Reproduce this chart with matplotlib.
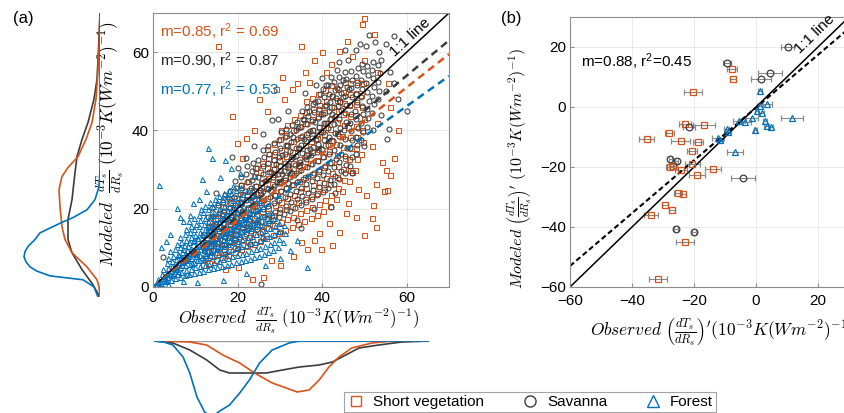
import matplotlib
matplotlib.use("Agg")
from matplotlib import pyplot as plt
from matplotlib.lines import Line2D
import numpy as np

plt.rcParams["font.family"] = ["Liberation Sans", "DejaVu Sans"]
plt.rcParams["mathtext.fontset"] = "cm"

RED = "#D95319"
BLUE = "#0072BD"
GRAY = "#3c3c3c"
SPINE = "#8c8c8c"

# ---- panel (a) scatter: (observed, modeled) ----
short_veg = [
    (11.8, 5.5), (12.2, 7.5), (12.0, 9.5), (12.3, 11.5), (11.9, 13.5),
    (13.3, 6.2), (13.7, 8.3), (13.4, 10.4), (13.8, 12.5), (13.5, 14.6), (13.2, 16.5),
    (14.8, 6.9), (15.2, 9.0), (14.9, 11.2), (15.3, 13.3), (15.0, 15.5), (14.7, 17.6),
    (16.3, 7.6), (16.7, 9.8), (16.4, 12.0), (16.8, 14.2), (16.5, 16.4), (16.2, 18.6), (16.6, 20.5),
    (17.8, 8.3), (18.2, 10.5), (17.9, 12.8), (18.3, 15.0), (18.0, 17.3), (17.7, 19.5), (18.1, 21.6),
    (19.3, 9.0), (19.7, 11.3), (19.4, 13.6), (19.8, 15.9), (19.5, 18.2), (19.2, 20.5), (19.6, 22.8),
    (20.8, 9.7), (21.2, 12.0), (20.9, 14.4), (21.3, 16.7), (21.0, 19.1), (20.7, 21.4), (21.1, 23.8), (20.9, 26.0),
    (22.3, 10.4), (22.7, 12.8), (22.4, 15.2), (22.8, 17.6), (22.5, 20.0), (22.2, 22.4), (22.6, 24.8), (22.4, 27.2),
    (23.8, 11.1), (24.2, 13.6), (23.9, 16.0), (24.3, 18.5), (24.0, 20.9), (23.7, 23.4), (24.1, 25.8), (23.9, 28.3), (24.2, 30.5),
    (25.3, 11.8), (25.7, 14.3), (25.4, 16.8), (25.8, 19.3), (25.5, 21.8), (25.2, 24.3), (25.6, 26.8), (25.4, 29.3), (25.7, 31.8),
    (26.8, 12.5), (27.2, 15.0), (26.9, 17.6), (27.3, 20.1), (27.0, 22.7), (26.7, 25.2), (27.1, 27.8), (26.9, 30.3), (27.2, 32.9), (27.0, 35.2),
    (28.3, 13.2), (28.7, 15.8), (28.4, 18.4), (28.8, 21.0), (28.5, 23.6), (28.2, 26.2), (28.6, 28.8), (28.4, 31.4), (28.7, 34.0), (28.5, 36.6),
    (29.8, 13.9), (30.2, 16.5), (29.9, 19.2), (30.3, 21.8), (30.0, 24.5), (29.7, 27.1), (30.1, 29.8), (29.9, 32.4), (30.2, 35.1), (30.0, 37.7), (30.3, 40.2),
    (31.3, 14.6), (31.7, 17.3), (31.4, 20.0), (31.8, 22.7), (31.5, 25.4), (31.2, 28.1), (31.6, 30.8), (31.4, 33.5), (31.7, 36.2), (31.5, 38.9), (31.8, 41.5),
    (32.8, 15.3), (33.2, 18.0), (32.9, 20.8), (33.3, 23.5), (33.0, 26.3), (32.7, 29.0), (33.1, 31.8), (32.9, 34.5), (33.2, 37.3), (33.0, 40.0), (33.3, 42.8),
    (34.3, 16.0), (34.7, 18.8), (34.4, 21.6), (34.8, 24.4), (34.5, 27.2), (34.2, 30.0), (34.6, 32.8), (34.4, 35.6), (34.7, 38.4), (34.5, 41.2), (34.8, 44.0),
    (35.8, 16.8), (36.2, 19.6), (35.9, 22.4), (36.3, 25.2), (36.0, 28.0), (35.7, 30.8), (36.1, 33.6), (35.9, 36.4), (36.2, 39.2), (36.0, 42.0), (36.3, 44.8), (36.1, 47.5),
    (37.3, 17.6), (37.7, 20.4), (37.4, 23.2), (37.8, 26.0), (37.5, 28.8), (37.2, 31.6), (37.6, 34.4), (37.4, 37.2), (37.7, 40.0), (37.5, 42.8), (37.8, 45.6), (37.6, 48.4),
    (38.8, 18.4), (39.2, 21.2), (38.9, 24.0), (39.3, 26.8), (39.0, 29.6), (38.7, 32.4), (39.1, 35.2), (38.9, 38.0), (39.2, 40.8), (39.0, 43.6), (39.3, 46.4), (39.1, 49.2),
    (40.3, 19.5), (40.7, 22.3), (40.4, 25.1), (40.8, 27.9), (40.5, 30.7), (40.2, 33.5), (40.6, 36.3), (40.4, 39.1), (40.7, 41.9), (40.5, 44.7), (40.8, 47.5), (40.6, 50.3),
    (41.8, 20.8), (42.2, 23.6), (41.9, 26.4), (42.3, 29.2), (42.0, 32.0), (41.7, 34.8), (42.1, 37.6), (41.9, 40.4), (42.2, 43.2), (42.0, 46.0), (42.3, 48.8), (42.1, 51.5),
    (43.3, 22.5), (43.7, 25.3), (43.4, 28.1), (43.8, 30.9), (43.5, 33.7), (43.2, 36.5), (43.6, 39.3), (43.4, 42.1), (43.7, 44.9), (43.5, 47.7), (43.8, 50.5),
    (44.8, 24.5), (45.2, 27.3), (44.9, 30.1), (45.3, 32.9), (45.0, 35.7), (44.7, 38.5), (45.1, 41.3), (44.9, 44.1), (45.2, 46.9), (45.0, 49.7), (45.3, 52.5),
    (46.3, 27.0), (46.7, 29.8), (46.4, 32.6), (46.8, 35.4), (46.5, 38.2), (46.2, 41.0), (46.6, 43.8), (46.4, 46.6), (46.7, 49.4), (46.5, 52.2),
    (47.8, 30.0), (48.2, 32.8), (47.9, 35.6), (48.3, 38.4), (48.0, 41.2), (47.7, 44.0), (48.1, 46.8), (47.9, 49.6), (48.2, 52.4),
    (49.3, 34.0), (49.7, 37.0), (49.4, 40.0), (49.8, 43.0), (49.5, 46.0), (49.2, 49.0), (49.6, 52.0),
    # scattered
    (49.9, 13.3), (52.7, 15.4), (51.8, 17.7), (36.5, 9.7), (39.8, 9.7), (42.4, 10.8), (23.3, 2.0),
    (48.0, 18.0), (45.6, 19.0), (55.3, 24.9), (52.7, 26.2), (50.4, 23.6), (41.6, 16.4), (39.3, 13.8),
    (49.9, 68.7), (49.4, 67.2), (35.0, 61.5), (15.3, 61.5), (30.4, 53.6), (18.6, 43.8), (19.8, 36.9),
    (32.9, 50.5), (45.9, 62.8), (52.2, 64.6), (44.0, 60.3), (40.0, 60.0), (54.1, 32.0), (51.8, 35.9),
    (47.0, 29.5), (54.6, 24.4), (26.0, 2.5), (30.0, 5.5), (33.0, 8.0), (28.0, 7.0), (44.0, 14.0),
    (46.0, 21.5), (38.0, 12.0), (35.0, 11.5), (55.0, 30.0), (57.0, 33.0), (53.0, 42.0), (56.0, 46.0),
    (27.0, 45.0), (24.0, 40.0), (22.0, 38.0), (31.0, 48.0), (36.0, 55.0), (38.0, 58.0), (42.0, 57.0),
    (47.0, 59.0), (21.0, 33.0), (34.0, 52.0), (50.0, 58.0), (53.0, 55.0), (25.0, 48.0), (29.0, 50.5),
    (37.0, 52.5), (41.0, 55.0), (20.0, 5.0), (17.0, 4.5), (44.0, 47.5), (55.5, 52.0), (58.0, 40.0),
    (56.0, 28.5), (52.0, 21.0), (48.5, 25.0),
]

savanna = [
    (12.8, 9.0), (13.2, 11.2), (13.0, 13.4), (13.3, 15.6), (12.9, 17.8),
    (14.1, 9.5), (14.5, 11.6), (14.2, 13.8), (14.6, 16.0), (14.3, 18.2), (14.0, 20.3),
    (15.4, 10.1), (15.8, 12.2), (15.5, 14.4), (15.9, 16.6), (15.6, 18.8), (15.3, 21.0),
    (16.7, 10.8), (17.1, 12.9), (16.8, 15.1), (17.2, 17.3), (16.9, 19.5), (16.6, 21.7), (17.0, 23.5),
    (18.0, 11.4), (18.4, 13.6), (18.1, 15.8), (18.5, 18.0), (18.2, 20.2), (17.9, 22.4), (18.3, 24.4),
    (19.3, 12.1), (19.7, 14.3), (19.4, 16.5), (19.8, 18.7), (19.5, 20.9), (19.2, 23.1), (19.6, 25.2), (19.4, 27.0),
    (20.6, 12.8), (21.0, 15.0), (20.7, 17.2), (21.1, 19.4), (20.8, 21.6), (20.5, 23.8), (20.9, 26.0), (20.7, 28.1),
    (21.9, 13.5), (22.3, 15.7), (22.0, 17.9), (22.4, 20.1), (22.1, 22.3), (21.8, 24.5), (22.2, 26.7), (22.0, 28.9), (22.3, 31.0),
    (23.2, 14.2), (23.6, 16.4), (23.3, 18.6), (23.7, 20.8), (23.4, 23.0), (23.1, 25.2), (23.5, 27.4), (23.3, 29.6), (23.6, 31.8),
    (24.5, 14.9), (24.9, 17.1), (24.6, 19.3), (25.0, 21.5), (24.7, 23.7), (24.4, 25.9), (24.8, 28.1), (24.6, 30.3), (24.9, 32.5),
    (25.8, 15.6), (26.2, 17.8), (25.9, 20.0), (26.3, 22.2), (26.0, 24.4), (25.7, 26.6), (26.1, 28.8), (25.9, 31.0), (26.2, 33.2), (26.0, 35.0),
    (27.1, 16.3), (27.5, 18.5), (27.2, 20.7), (27.6, 22.9), (27.3, 25.1), (27.0, 27.3), (27.4, 29.5), (27.2, 31.7), (27.5, 33.9), (27.3, 36.0),
    (28.4, 17.0), (28.8, 19.2), (28.5, 21.4), (28.9, 23.6), (28.6, 25.8), (28.3, 28.0), (28.7, 30.2), (28.5, 32.4), (28.8, 34.6), (28.6, 36.8),
    (29.7, 17.8), (30.1, 20.0), (29.8, 22.2), (30.2, 24.4), (29.9, 26.6), (29.6, 28.8), (30.0, 31.0), (29.8, 33.2), (30.1, 35.4), (29.9, 37.6), (30.2, 39.5),
    (31.0, 18.6), (31.4, 20.8), (31.1, 23.0), (31.5, 25.2), (31.2, 27.4), (30.9, 29.6), (31.3, 31.8), (31.1, 34.0), (31.4, 36.2), (31.2, 38.4), (31.5, 40.4),
    (32.3, 19.4), (32.7, 21.6), (32.4, 23.8), (32.8, 26.0), (32.5, 28.2), (32.2, 30.4), (32.6, 32.6), (32.4, 34.8), (32.7, 37.0), (32.5, 39.2), (32.8, 41.3),
    (33.6, 20.2), (34.0, 22.4), (33.7, 24.6), (34.1, 26.8), (33.8, 29.0), (33.5, 31.2), (33.9, 33.4), (33.7, 35.6), (34.0, 37.8), (33.8, 40.0), (34.1, 42.2),
    (34.9, 21.0), (35.3, 23.2), (35.0, 25.4), (35.4, 27.6), (35.1, 29.8), (34.8, 32.0), (35.2, 34.2), (35.0, 36.4), (35.3, 38.6), (35.1, 40.8), (35.4, 43.0), (35.2, 45.0),
    (36.2, 21.8), (36.6, 24.0), (36.3, 26.2), (36.7, 28.4), (36.4, 30.6), (36.1, 32.8), (36.5, 35.0), (36.3, 37.2), (36.6, 39.4), (36.4, 41.6), (36.7, 43.8), (36.5, 46.0),
    (37.5, 22.6), (37.9, 24.8), (37.6, 27.0), (38.0, 29.2), (37.7, 31.4), (37.4, 33.6), (37.8, 35.8), (37.6, 38.0), (37.9, 40.2), (37.7, 42.4), (38.0, 44.6), (37.8, 46.8),
    (38.8, 23.4), (39.2, 25.6), (38.9, 27.8), (39.3, 30.0), (39.0, 32.2), (38.7, 34.4), (39.1, 36.6), (38.9, 38.8), (39.2, 41.0), (39.0, 43.2), (39.3, 45.4), (39.1, 47.6),
    (40.1, 24.3), (40.5, 26.5), (40.2, 28.7), (40.6, 30.9), (40.3, 33.1), (40.0, 35.3), (40.4, 37.5), (40.2, 39.7), (40.5, 41.9), (40.3, 44.1), (40.6, 46.3), (40.4, 48.5), (40.2, 50.5),
    (41.4, 25.2), (41.8, 27.4), (41.5, 29.6), (41.9, 31.8), (41.6, 34.0), (41.3, 36.2), (41.7, 38.4), (41.5, 40.6), (41.8, 42.8), (41.6, 45.0), (41.9, 47.2), (41.7, 49.4), (41.5, 51.5),
    (42.7, 26.2), (43.1, 28.4), (42.8, 30.6), (43.2, 32.8), (42.9, 35.0), (42.6, 37.2), (43.0, 39.4), (42.8, 41.6), (43.1, 43.8), (42.9, 46.0), (43.2, 48.2), (43.0, 50.4), (42.8, 52.4),
    (44.0, 27.5), (44.4, 29.7), (44.1, 31.9), (44.5, 34.1), (44.2, 36.3), (43.9, 38.5), (44.3, 40.7), (44.1, 42.9), (44.4, 45.1), (44.2, 47.3), (44.5, 49.5), (44.3, 51.7), (44.1, 53.6),
    (45.3, 29.0), (45.7, 31.2), (45.4, 33.4), (45.8, 35.6), (45.5, 37.8), (45.2, 40.0), (45.6, 42.2), (45.4, 44.4), (45.7, 46.6), (45.5, 48.8), (45.8, 51.0), (45.6, 53.2), (45.4, 55.0),
    (46.6, 31.0), (47.0, 33.2), (46.7, 35.4), (47.1, 37.6), (46.8, 39.8), (46.5, 42.0), (46.9, 44.2), (46.7, 46.4), (47.0, 48.6), (46.8, 50.8), (47.1, 53.0), (46.9, 55.2),
    (47.9, 34.0), (48.3, 36.2), (48.0, 38.4), (48.4, 40.6), (48.1, 42.8), (47.8, 45.0), (48.2, 47.2), (48.0, 49.4), (48.3, 51.6), (48.1, 53.8), (48.4, 56.0),
    (49.2, 37.5), (49.6, 39.7), (49.3, 41.9), (49.7, 44.1), (49.4, 46.3), (49.1, 48.5), (49.5, 50.7), (49.3, 52.9), (49.6, 55.1), (49.4, 57.0),
    (50.5, 41.0), (50.9, 43.2), (50.6, 45.4), (51.0, 47.6), (50.7, 49.8), (50.4, 52.0), (50.8, 54.2), (50.6, 56.4),
    (51.8, 44.5), (52.2, 46.7), (51.9, 48.9), (52.3, 51.1), (52.0, 53.3), (51.7, 55.5), (52.1, 57.5),
    (53.1, 48.0), (53.5, 50.2), (53.2, 52.4), (53.6, 54.6), (53.3, 56.8),
    # densest part, second pass
    (24.0, 22.5), (25.3, 24.8), (26.6, 27.0), (27.9, 29.3), (29.2, 31.5), (30.5, 33.8), (31.8, 36.0),
    (33.1, 38.3), (34.4, 40.5), (35.7, 42.7), (37.0, 45.0), (38.3, 47.2), (39.6, 49.4), (40.9, 51.6),
    (42.2, 53.6), (43.5, 55.5), (28.0, 24.5), (29.3, 26.7), (30.6, 28.9), (31.9, 31.1), (33.2, 33.3),
    (34.5, 35.5), (35.8, 37.7), (37.1, 39.9), (38.4, 42.1), (39.7, 44.3), (41.0, 46.5), (42.3, 48.7),
    (43.6, 50.9), (44.9, 53.0), (32.0, 26.5), (33.3, 28.7), (34.6, 30.9), (35.9, 33.1), (37.2, 35.3),
    (38.5, 37.5), (39.8, 39.7), (41.1, 41.9), (42.4, 44.1), (43.7, 46.3), (45.0, 48.5), (46.3, 50.7),
    # scattered
    (57.0, 64.0), (55.0, 62.0), (55.3, 37.7), (55.8, 40.3), (18.8, 33.3), (28.2, 42.6), (29.5, 43.0),
    (50.4, 61.5), (52.5, 62.5), (54.0, 58.0), (56.0, 55.0), (2.4, 7.7), (25.6, 0.8), (48.0, 60.5),
    (46.0, 58.0), (44.0, 57.5), (53.5, 60.0), (55.0, 50.0), (57.0, 52.0), (52.0, 40.0), (50.0, 36.0),
    (47.0, 29.0), (43.0, 24.0), (38.0, 20.0), (34.0, 17.0), (30.0, 14.0), (26.0, 12.5), (23.0, 11.0),
    (20.0, 9.8), (17.0, 8.5), (22.0, 33.0), (24.0, 36.0), (20.0, 30.5), (26.0, 39.0), (32.0, 45.0),
    (36.0, 49.5), (40.0, 53.5), (49.0, 62.0), (51.0, 64.5), (45.5, 60.5), (58.0, 48.0), (60.0, 45.0),
    (54.0, 44.0), (8.0, 3.0), (10.0, 8.8), (15.0, 24.0), (35.0, 15.0), (42.0, 20.5), (38.5, 51.5),
]

forest = [
    (0.8, 0.6), (1.1, 1.3), (1.4, 0.9), (1.2, 2.0), (1.7, 1.6),
    (2.0, 1.1), (2.3, 2.3), (2.1, 3.4), (2.5, 1.7), (2.4, 4.6), (2.6, 2.9),
    (3.1, 1.6), (3.4, 2.6), (3.2, 3.7), (3.5, 4.8), (3.3, 6.1), (3.6, 7.4), (3.0, 2.1),
    (4.2, 1.9), (4.5, 3.0), (4.3, 4.2), (4.6, 5.3), (4.4, 6.6), (4.7, 7.9), (4.1, 9.1), (4.8, 3.6),
    (5.3, 2.3), (5.6, 3.4), (5.4, 4.7), (5.7, 5.9), (5.5, 7.2), (5.8, 8.5), (5.2, 9.8), (5.6, 11.0), (5.9, 4.1),
    (6.4, 2.6), (6.7, 3.9), (6.5, 5.1), (6.8, 6.4), (6.6, 7.7), (6.9, 9.0), (6.3, 10.3), (6.7, 11.6), (6.5, 12.9), (6.9, 5.6),
    (7.5, 3.0), (7.8, 4.3), (7.6, 5.6), (7.9, 6.9), (7.7, 8.2), (8.0, 9.5), (7.4, 10.8), (7.8, 12.1), (7.6, 13.5), (7.9, 14.8), (8.0, 7.4),
    (8.6, 3.3), (8.9, 4.7), (8.7, 6.0), (9.0, 7.3), (8.8, 8.7), (9.1, 10.0), (8.5, 11.4), (8.9, 12.7), (8.7, 14.1), (9.0, 15.5), (8.6, 16.8),
    (9.7, 3.6), (10.0, 5.0), (9.8, 6.4), (10.1, 7.8), (9.9, 9.2), (10.2, 10.6), (9.6, 12.0), (10.0, 13.4), (9.8, 14.8), (10.1, 16.2), (9.7, 17.7), (10.2, 8.5),
    (10.8, 3.9), (11.1, 5.4), (10.9, 6.8), (11.2, 8.2), (11.0, 9.7), (11.3, 11.1), (10.7, 12.6), (11.1, 14.0), (10.9, 15.5), (11.2, 17.0), (10.8, 18.5), (11.3, 19.8),
    (11.9, 4.2), (12.2, 5.7), (12.0, 7.2), (12.3, 8.7), (12.1, 10.2), (12.4, 11.7), (11.8, 13.2), (12.2, 14.7), (12.0, 16.2), (12.3, 17.7), (11.9, 19.2), (12.4, 20.7), (12.1, 9.4),
    (13.0, 4.5), (13.3, 6.0), (13.1, 7.6), (13.4, 9.1), (13.2, 10.7), (13.5, 12.2), (12.9, 13.8), (13.3, 15.3), (13.1, 16.9), (13.4, 18.5), (13.0, 20.0), (13.5, 21.6),
    (14.1, 4.8), (14.4, 6.4), (14.2, 8.0), (14.5, 9.6), (14.3, 11.2), (14.6, 12.8), (14.0, 14.4), (14.4, 16.0), (14.2, 17.6), (14.5, 19.2), (14.1, 20.8), (14.6, 22.4), (14.3, 13.5),
    (15.2, 5.1), (15.5, 6.7), (15.3, 8.4), (15.6, 10.0), (15.4, 11.7), (15.7, 13.3), (15.1, 15.0), (15.5, 16.6), (15.3, 18.3), (15.6, 19.9), (15.2, 21.6), (15.7, 23.2),
    (16.3, 5.4), (16.6, 7.1), (16.4, 8.8), (16.7, 10.5), (16.5, 12.2), (16.8, 13.9), (16.2, 15.6), (16.6, 17.3), (16.4, 19.0), (16.7, 20.7), (16.3, 22.4), (16.8, 24.1), (16.5, 14.7),
    (17.4, 5.7), (17.7, 7.4), (17.5, 9.2), (17.8, 10.9), (17.6, 12.7), (17.9, 14.4), (17.3, 16.2), (17.7, 17.9), (17.5, 19.7), (17.8, 21.4), (17.4, 23.2), (17.9, 24.9),
    (18.5, 6.0), (18.8, 7.8), (18.6, 9.6), (18.9, 11.4), (18.7, 13.2), (19.0, 15.0), (18.4, 16.8), (18.8, 18.6), (18.6, 20.4), (18.9, 22.2), (18.5, 24.0), (19.0, 25.8),
    (19.6, 6.3), (19.9, 8.1), (19.7, 10.0), (20.0, 11.8), (19.8, 13.7), (20.1, 15.5), (19.5, 17.4), (19.9, 19.2), (19.7, 21.1), (20.0, 22.9), (19.6, 24.8), (20.1, 16.4),
    (20.7, 6.6), (21.0, 8.5), (20.8, 10.4), (21.1, 12.3), (20.9, 14.2), (21.2, 16.1), (20.6, 18.0), (21.0, 19.9), (20.8, 21.8), (21.1, 23.7), (20.7, 25.6),
    (21.8, 6.9), (22.1, 8.8), (21.9, 10.8), (22.2, 12.7), (22.0, 14.7), (22.3, 16.6), (21.7, 18.6), (22.1, 20.5), (21.9, 22.5), (22.2, 24.4), (22.0, 17.5),
    (22.9, 7.2), (23.2, 9.2), (23.0, 11.2), (23.3, 13.1), (23.1, 15.1), (23.4, 17.1), (22.8, 19.1), (23.2, 21.1), (23.0, 23.1), (23.3, 25.0),
    (24.0, 7.6), (24.3, 9.6), (24.1, 11.6), (24.4, 13.6), (24.2, 15.6), (24.5, 17.6), (23.9, 19.6), (24.3, 21.6), (24.1, 23.6),
    (25.1, 8.0), (25.4, 10.0), (25.2, 12.0), (25.5, 14.1), (25.3, 16.1), (25.6, 18.1), (25.0, 20.1), (25.4, 22.1),
    (26.2, 8.4), (26.5, 10.4), (26.3, 12.5), (26.6, 14.5), (26.4, 16.6), (26.7, 18.6), (26.1, 20.6),
    (27.3, 8.9), (27.6, 10.9), (27.4, 13.0), (27.7, 15.0), (27.5, 17.1), (27.8, 19.1),
    (28.4, 9.5), (28.7, 11.5), (28.5, 13.6), (28.8, 15.6), (28.6, 17.7),
    (29.5, 10.3), (29.8, 12.3), (29.6, 14.4), (29.9, 16.4),
    (30.8, 11.6), (31.2, 13.8), (31.0, 15.9),
    # densest part, second pass
    (4.0, 3.4), (5.0, 5.0), (6.0, 6.5), (7.1, 7.3), (8.2, 8.0), (9.3, 8.9), (10.4, 9.8), (11.5, 10.4),
    (12.6, 11.2), (13.7, 11.9), (14.8, 12.5), (15.9, 13.4), (17.0, 14.1), (18.1, 14.8), (19.2, 15.7),
    (20.3, 16.6), (21.4, 17.3), (22.5, 18.1), (23.6, 18.9), (9.3, 6.2), (10.4, 7.0), (11.5, 7.6),
    (12.6, 8.3), (13.7, 9.0), (14.8, 9.8), (15.9, 10.6), (17.0, 11.3), (18.1, 12.0), (19.2, 12.8),
    (20.3, 13.5), (21.4, 14.3), (22.5, 15.1), (23.6, 16.0), (24.7, 16.8), (6.1, 8.3), (7.2, 9.6),
    (8.3, 10.6), (9.4, 11.7), (10.5, 12.5), (11.6, 13.6), (12.7, 14.5), (13.8, 15.6), (14.9, 16.4),
    (16.0, 17.5), (17.1, 18.4), (18.2, 19.5), (19.3, 20.3), (20.4, 21.2),
    # scattered
    (1.5, 26.0), (5.6, 20.2), (8.7, 18.5), (2.0, 10.3), (16.5, 1.8), (10.3, 1.3), (36.5, 5.2),
    (13.0, 35.6), (6.5, 18.0), (4.0, 13.5), (3.0, 11.8), (7.0, 16.8), (10.8, 22.5), (12.5, 24.5),
    (15.8, 28.0), (18.5, 30.5), (20.5, 29.0), (14.0, 33.0), (32.5, 9.5), (34.0, 12.0), (22.0, 3.5),
    (26.5, 5.5), (11.5, 27.5), (9.5, 21.5), (24.0, 28.5), (27.0, 25.5), (3.5, 0.8), (7.0, 1.5),
    (30.0, 7.5), (17.0, 32.5),
]

# regression slopes in (a)
slope_sv, slope_sa, slope_fo = 0.85, 0.90, 0.77

# ---- marginal densities (a) ----
left_y = [-2.6, 0.0, 1.8, 2.8, 4.0, 5.1, 6.4, 7.7, 9.0, 10.3, 12.1, 13.8, 15.4, 16.6, 17.7, 19.7, 22.3, 25.6, 30, 70]
left_fo = [2, 6, 17, 50, 63, 70, 74, 76, 75, 72, 65, 60, 47, 37, 27, 13, 5, 1, 0, 0]
left_sv_y = [-2.6, 0.0, 1.8, 5.1, 8.7, 12.1, 15.4, 20.5, 24.9, 28.2, 30.5, 33.3, 37.7, 42, 48, 55, 61, 70]
left_sv = [0, 1, 3, 13, 28, 35, 38, 40, 41, 38, 32, 22, 14, 8, 4, 2, 1, 0]
left_sa_y = [-2.6, 0.9, 4.4, 8.7, 12.1, 17.2, 22.3, 29.2, 33.3, 37.7, 42, 48, 53, 58, 64, 70]
left_sa = [0, 8, 18, 28, 32, 32, 28, 25, 23, 18, 12, 6, 3, 2, 1, 0]

bot_x = [0.5, 2.5, 4.7, 7.1, 8.7, 10.4, 12.2, 13.9, 15.8, 18.1, 20.5, 22.8, 25.2, 28.2, 32.2, 34.6, 65]
bot_fo = [0, 1, 4, 16, 32, 56, 71, 76, 70, 64, 52, 39, 22, 9, 2, 0, 0]
bot_sv_x = [0.5, 4.7, 8.7, 12.7, 16.5, 20.5, 24.0, 28.2, 31.5, 34.1, 36.9, 39.3, 41.6, 44.0, 47.0, 51.8, 56.5, 65]
bot_sv = [0, 0.3, 1, 4, 14, 22, 32, 42, 47, 51, 49, 39, 26, 16, 7, 2, 0, 0]
bot_sa_x = [0.5, 4.7, 8.7, 12.7, 15.8, 18.1, 22.1, 26.8, 30.6, 34.6, 39.3, 42.4, 45.6, 48.7, 53.4, 58.8, 65]
bot_sa = [0, 2, 9, 19, 29, 32, 32, 32, 29, 26, 24, 21, 14, 7, 4, 1, 0]

# ---- panel (b): (observed, modeled, observed error) ----
sv_b = [(-7.8, 12.6, 1.6), (-7.4, 9.3, 1.0), (-20.3, 5.1, 2.8), (-22.9, -5.7, 1.8),
        (-16.8, -5.9, 3.6), (-35.2, -10.8, 2.4), (-28.0, -8.8, 1.5), (-24.3, -11.2, 3.0),
        (-18.7, -11.6, 1.5), (-20.6, -14.7, 1.5), (-20.6, -19.0, 2.4), (-27.7, -19.9, 1.2),
        (-26.8, -19.6, 1.2), (-24.2, -21.0, 2.0), (-13.9, -20.6, 2.7), (-19.0, -22.7, 2.7),
        (-25.2, -28.6, 1.2), (-23.5, -29.1, 1.0), (-29.4, -32.7, 1.0), (-27.1, -34.3, 1.0),
        (-33.9, -36.0, 2.2), (-22.9, -45.0, 2.8), (-31.6, -57.3, 2.8)]
sa_b = [(10.3, 20.0, 2.1), (-9.4, 14.7, 1.2), (4.5, 11.3, 3.8), (1.6, 9.3, 3.1),
        (-21.6, -6.6, 2.0), (-27.7, -17.4, 0.5), (-25.6, -17.9, 0.5), (-4.2, -23.8, 3.9),
        (-25.8, -40.7, 0.5), (-20.0, -41.6, 0.5)]
fo_b = [(1.3, 5.4, 0.5), (1.3, 0.3, 1.0), (3.5, 1.0, 1.5), (0.2, -1.3, 0.5), (1.9, -2.0, 0.8),
        (-1.3, -3.8, 2.0), (-3.5, -4.9, 2.0), (-5.5, -4.6, 2.0), (2.9, -4.7, 0.5), (3.5, -6.3, 0.8),
        (4.7, -6.5, 0.8), (-0.3, -7.7, 0.5), (11.7, -3.5, 3.5), (-9.4, -7.3, 0.8), (-9.0, -8.2, 0.8),
        (-12.3, -10.2, 2.0), (-11.6, -11.0, 1.0), (-6.8, -14.9, 2.5)]
slope_b, icpt_b = 0.88, -0.2

W, H = 845, 413
fig = plt.figure(figsize=(W / 100, H / 100), dpi=100)


def px_axes(x0, y0, x1, y1):
    # pixel box (left, top, right, bottom) -> figure axes
    return fig.add_axes([x0 / W, 1 - y1 / H, (x1 - x0) / W, (y1 - y0) / H])


def style(ax):
    for s in ax.spines.values():
        s.set_color(SPINE)
        s.set_linewidth(0.8)
    ax.tick_params(direction="in", length=3, color=SPINE, labelsize=11, pad=3)
    ax.grid(True, color="#e6e6e6", lw=0.6)
    ax.set_axisbelow(True)


lab = r"(10^{-3}K(Wm^{-2})^{-1})"

# ---------- panel (a) ----------
ax = px_axes(153, 13, 449, 287)
style(ax)
mk = dict(ls="none", mfc="none", ms=3.6, mew=0.75)
x, y = zip(*short_veg)
ax.plot(x, y, marker="s", color=RED, **mk)
x, y = zip(*savanna)
ax.plot(x, y, marker="o", color=GRAY, **mk)
x, y = zip(*forest)
ax.plot(x, y, marker="^", color=BLUE, **mk)

xx = np.array([0, 70])
ax.plot(xx, xx, color="k", lw=1.1)
ax.plot(xx, slope_sa * xx, color=GRAY, lw=1.8, dashes=(3, 2))
ax.plot(xx, slope_sv * xx, color=RED, lw=1.8, dashes=(3, 2))
ax.plot(xx, slope_fo * xx, color=BLUE, lw=1.8, dashes=(3, 2))
ax.text(62.0, 62.5, "1:1 line", rotation=45, transform_rotates_text=True,
        rotation_mode="anchor", ha="center", va="bottom", fontsize=11)
ax.set_xlim(0, 70)
ax.set_ylim(0, 70)
ax.set_xticks([0, 20, 40, 60])
ax.set_yticks([0, 20, 40, 60])
ax.text(1.6, 65.1, r"m=0.85, r$\mathregular{^2}$ = 0.69", color=RED, fontsize=11, va="center")
ax.text(1.6, 57.7, r"m=0.90, r$\mathregular{^2}$ = 0.87", color="#262626", fontsize=11, va="center")
ax.text(1.6, 50.3, r"m=0.77, r$\mathregular{^2}$ = 0.53", color=BLUE, fontsize=11, va="center")
ax.set_xlabel(r"$Observed\ \ \frac{dT_s}{dR_s}\ " + lab + "$", fontsize=12)
ax.xaxis.set_label_coords(146 / 296, -18 / 274)
ax.set_ylabel(r"$Modeled\ \ \frac{dT_s}{dR_s}\ " + lab + "$", fontsize=12.5)
ax.yaxis.set_label_coords(-27 / 296, 143 / 274)

# left marginal
axl = px_axes(0, 13, 100, 297)
axl.plot([0, 0], [-2.6, 69.5], color="#9a9a9a", lw=1.0)
axl.plot(left_sa, left_sa_y, color=GRAY, lw=1.2)
axl.plot(left_sv, left_sv_y, color=RED, lw=1.2)
axl.plot(left_fo, left_y, color=BLUE, lw=1.2)
axl.set_xlim(100, 0)
axl.set_ylim(-2.6, 70)
axl.axis("off")

# bottom marginal
axb = px_axes(153, 341, 449, 425)
axb.plot([0.5, 65], [0, 0], color="#9a9a9a", lw=1.0)
axb.plot(bot_sa_x, bot_sa, color=GRAY, lw=1.2)
axb.plot(bot_sv_x, bot_sv, color=RED, lw=1.2)
axb.plot(bot_x, bot_fo, color=BLUE, lw=1.2)
axb.set_xlim(0, 70)
axb.set_ylim(84, 0)
axb.axis("off")

# ---------- panel (b) ----------
bx = px_axes(570, 17, 849, 287)
style(bx)
bx.tick_params(axis="x", pad=5)
eb = dict(ls="none", ecolor="#8a8a8a", elinewidth=0.8, capsize=2, capthick=0.8,
          mfc="none", ms=4.8, mew=0.9)
for pts, m, c in [(sv_b, "s", RED), (sa_b, "o", GRAY), (fo_b, "^", BLUE)]:
    o, mo, e = zip(*pts)
    bx.errorbar(o, mo, xerr=e, marker=m, color=c, **eb)
xb = np.array([-60, 30])
bx.plot(xb, xb, color="k", lw=1.1)
bx.plot(xb, slope_b * xb + icpt_b, color="k", lw=1.5, dashes=(2.5, 1.5))
bx.text(20.5, 22.5, "1:1 line", rotation=45, transform_rotates_text=True,
        rotation_mode="anchor", ha="center", va="bottom", fontsize=11)
bx.text(-56.5, 15, r"m=0.88, r$\mathregular{^2}$=0.45", fontsize=11, va="center")
bx.set_xlim(-60, 30)
bx.set_ylim(-60, 30)
bx.set_xticks([-60, -40, -20, 0, 20])
bx.set_yticks([-60, -40, -20, 0, 20])
bx.set_xlabel(r"$Observed\ \left(\frac{dT_s}{dR_s}\right)^{\prime}" + lab + "$", fontsize=12.5)
bx.xaxis.set_label_coords(152 / 279, -29 / 270)
bx.set_ylabel(r"$Modeled\ \left(\frac{dT_s}{dR_s}\right)^{\prime}\ " + lab + "$", fontsize=11.5)
bx.yaxis.set_label_coords(-36 / 279, 119 / 270)

fig.text(13 / W, 1 - 18 / H, "(a)", fontsize=12, va="center")
fig.text(501 / W, 1 - 18 / H, "(b)", fontsize=12, va="center")

handles = [
    Line2D([], [], ls="none", marker="s", mfc="none", color=RED, ms=7, mew=1.0),
    Line2D([], [], ls="none", marker="o", mfc="none", color=GRAY, ms=8, mew=1.0),
    Line2D([], [], ls="none", marker="^", mfc="none", color=BLUE, ms=8, mew=1.0),
]
leg = fig.legend(handles, ["Short vegetation", "Savanna", "Forest"], ncol=3,
                 loc="center", bbox_to_anchor=(530 / W, 1 - 402 / H), fontsize=11,
                 frameon=True, fancybox=False, edgecolor="#8c8c8c", columnspacing=2.4,
                 handletextpad=0.5, borderpad=0.2, handlelength=1.2)
leg.get_frame().set_linewidth(0.8)

fig.savefig("out.png", dpi=100)
